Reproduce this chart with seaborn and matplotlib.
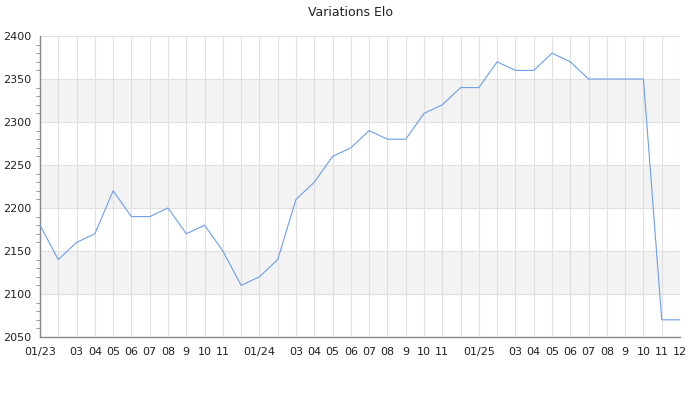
import numpy as np
import pandas as pd
import matplotlib
matplotlib.use("Agg")
import matplotlib.pyplot as plt
import seaborn as sns

months = [f"{y}-{m:02d}" for y in (2023, 2024, 2025) for m in range(1, 13)]
elo = [2180, 2140, 2160, 2170, 2220, 2190, 2190, 2200, 2170, 2180, 2150, 2110,
       2120, 2140, 2210, 2230, 2260, 2270, 2290, 2280, 2280, 2310, 2320, 2340,
       2340, 2370, 2360, 2360, 2380, 2370, 2350, 2350, 2350, 2350, 2070, 2070]
tick_labels = ["01/23", "", "03", "04", "05", "06", "07", "08", "9", "10", "11", "",
               "01/24", "", "03", "04", "05", "06", "07", "08", "9", "10", "11", "",
               "01/25", "", "03", "04", "05", "06", "07", "08", "9", "10", "11", "12"]

df = pd.DataFrame({"idx": range(len(months)), "month": months, "elo": elo})

sns.set_style("white")
plt.rcParams["font.family"] = ["DejaVu Sans"]

fig = plt.figure(figsize=(7, 4), dpi=100)
ax = fig.add_axes([40 / 700, 1 - 337 / 400, 640 / 700, 301 / 400])

# alternating grey bands
for lo in (2100, 2200, 2300):
    ax.axhspan(lo, lo + 50, color="#f3f3f3", zorder=0, lw=0)

sns.lineplot(data=df, x="idx", y="elo", ax=ax, color="#6d9eeb", linewidth=0.8, zorder=3)

ax.set_xlim(0, len(months) - 1)
ax.set_ylim(2050, 2400)
ax.set_xticks(df["idx"])
ax.set_xticklabels(tick_labels)
ax.set_yticks(np.arange(2050, 2401, 50))
ax.set_yticks(np.arange(2050, 2401, 10), minor=True)
ax.grid(True, which="major", color="#e0e0e0", linewidth=0.8, zorder=1)
ax.set_axisbelow(True)

ax.tick_params(axis="x", length=0, labelsize=8, pad=7.5, colors="#222222")
ax.tick_params(axis="y", which="major", length=4, labelsize=8, colors="#888888", labelcolor="#222222", pad=2)
ax.tick_params(axis="y", which="minor", length=3, colors="#888888", left=True)

for s in ("top", "right"):
    ax.spines[s].set_visible(False)
for s in ("left", "bottom"):
    ax.spines[s].set_color("#888888")
    ax.spines[s].set_linewidth(1)

ax.set_xlabel("")
ax.set_ylabel("")
fig.suptitle("Variations Elo", fontsize=9, y=0.985, color="#222222")

fig.savefig("out.png", dpi=100)
